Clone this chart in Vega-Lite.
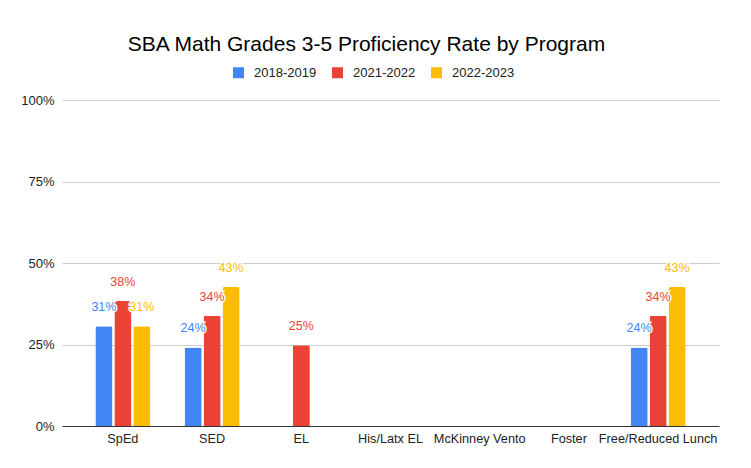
{
  "$schema": "https://vega.github.io/schema/vega-lite/v6.json",
  "width": 657,
  "height": 326,
  "autosize": "none",
  "padding": {"left": 62, "top": 100, "right": 32, "bottom": 42},
  "background": "white",
  "config": {"font": "Liberation Sans", "view": {"stroke": null}},
  "title": {
    "text": "SBA Math Grades 3-5 Proficiency Rate by Program",
    "fontSize": 21,
    "fontWeight": "normal",
    "color": "#000000",
    "anchor": "middle",
    "dx": -24,
    "offset": 11
  },
  "data": {
    "values": [
      {"program": "SpEd", "year": "2018-2019", "value": 0.306},
      {"program": "SpEd", "year": "2021-2022", "value": 0.384},
      {"program": "SpEd", "year": "2022-2023", "value": 0.306},
      {"program": "SED", "year": "2018-2019", "value": 0.241},
      {"program": "SED", "year": "2021-2022", "value": 0.338},
      {"program": "SED", "year": "2022-2023", "value": 0.426},
      {"program": "EL", "year": "2021-2022", "value": 0.248},
      {"program": "Free/Reduced Lunch", "year": "2018-2019", "value": 0.241},
      {"program": "Free/Reduced Lunch", "year": "2021-2022", "value": 0.338},
      {"program": "Free/Reduced Lunch", "year": "2022-2023", "value": 0.426}
    ]
  },
  "encoding": {
    "x": {
      "field": "program",
      "type": "nominal",
      "sort": null,
      "scale": {
        "domain": ["SpEd", "SED", "EL", "His/Latx EL", "McKinney Vento", "Foster", "Free/Reduced Lunch"],
        "paddingInner": 0.383,
        "paddingOuter": 0.374
      },
      "axis": {
        "title": null,
        "labelAngle": 0,
        "ticks": false,
        "domain": true,
        "domainColor": "#333333",
        "domainWidth": 1,
        "labelFontSize": 12.7,
        "labelColor": "#222222",
        "labelPadding": 6
      }
    },
    "xOffset": {
      "field": "year",
      "type": "nominal",
      "scale": {"paddingInner": 0.1}
    },
    "y": {
      "field": "value",
      "type": "quantitative",
      "scale": {"domain": [0, 1]},
      "axis": {
        "title": null,
        "values": [0, 0.25, 0.5, 0.75, 1],
        "format": ".0%",
        "grid": true,
        "gridColor": "#cccccc",
        "domain": false,
        "ticks": false,
        "labelFontSize": 13,
        "labelColor": "#222222",
        "labelPadding": 8
      }
    }
  },
  "layer": [
    {
      "mark": {"type": "bar", "cornerRadiusTopLeft": 2, "cornerRadiusTopRight": 2},
      "encoding": {
        "color": {
          "field": "year",
          "type": "nominal",
          "scale": {
            "domain": ["2018-2019", "2021-2022", "2022-2023"],
            "range": ["#4285F4", "#EA4335", "#FBBC04"]
          },
          "legend": {
            "title": null,
            "orient": "none",
            "legendX": 170,
            "legendY": -34,
            "direction": "horizontal",
            "symbolType": "square",
            "symbolSize": 121,
            "symbolStrokeWidth": 0,
            "labelFontSize": 13,
            "labelColor": "#222222",
            "labelOffset": 9,
            "columnPadding": 14
          }
        }
      }
    },
    {
      "mark": {"type": "text", "baseline": "bottom", "dy": -12, "fontSize": 12.5, "stroke": "white", "strokeWidth": 3, "fill": "white"},
      "encoding": {
        "text": {"field": "value", "type": "quantitative", "format": ".0%"}
      }
    },
    {
      "mark": {"type": "text", "baseline": "bottom", "dy": -12, "fontSize": 12.5},
      "encoding": {
        "text": {"field": "value", "type": "quantitative", "format": ".0%"},
        "color": {"field": "year", "type": "nominal", "legend": null}
      }
    }
  ]
}
